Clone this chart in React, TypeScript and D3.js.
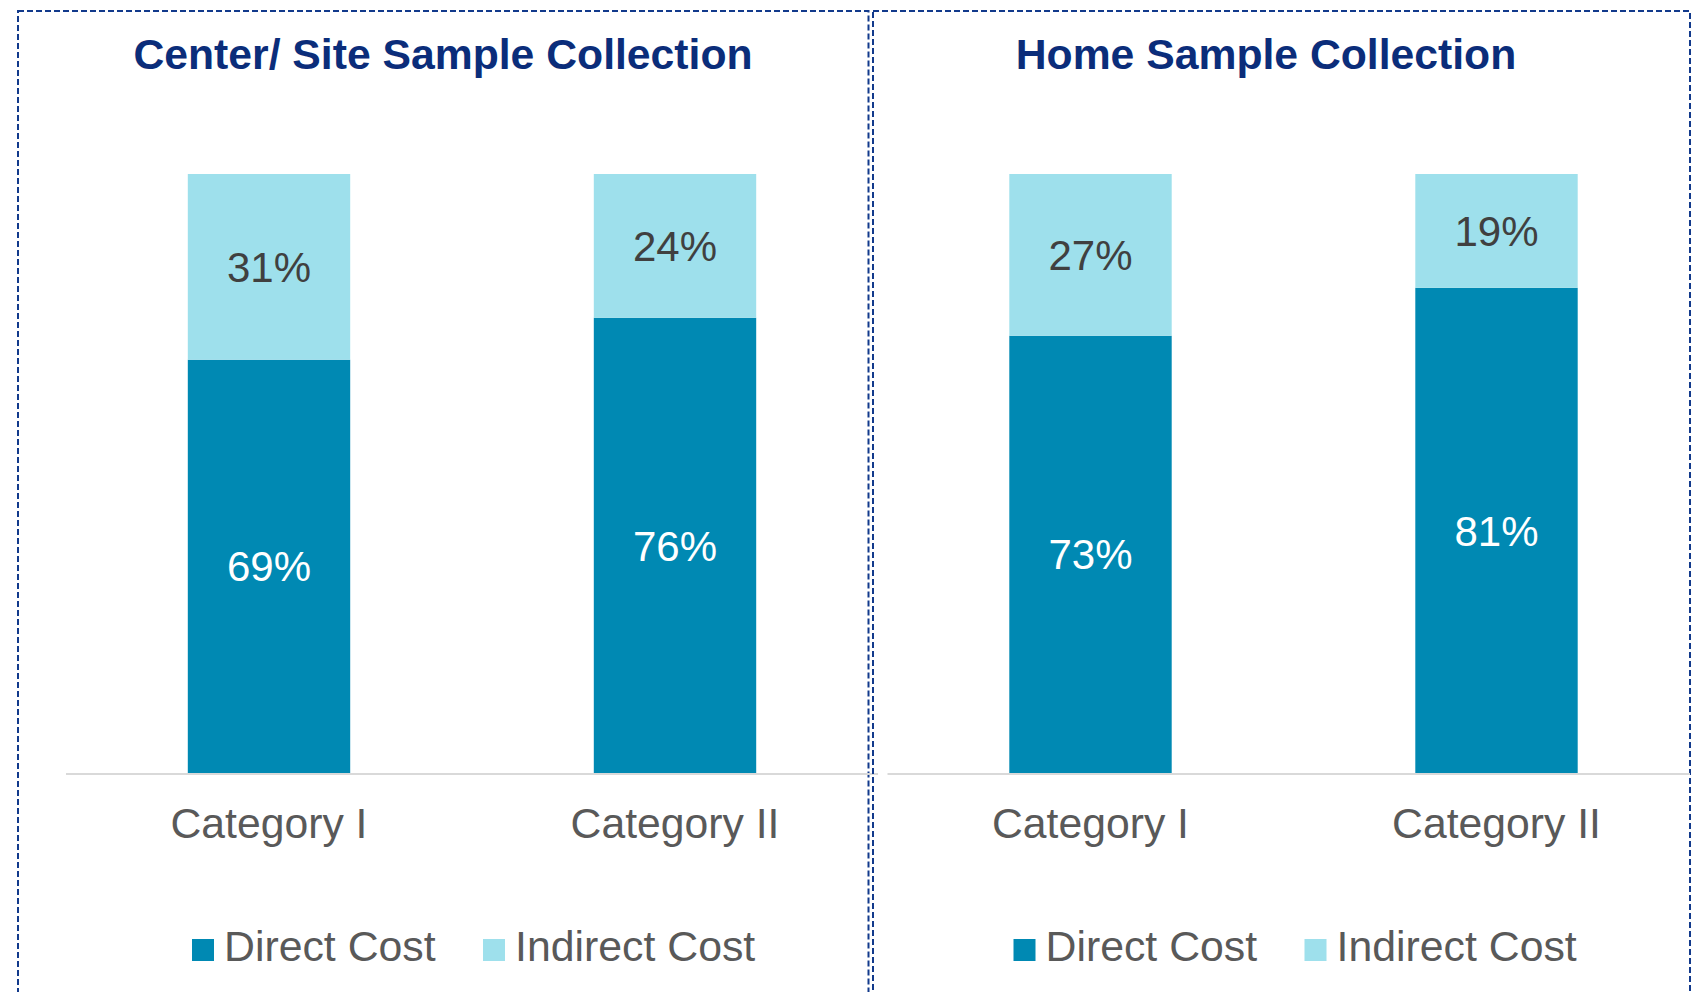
import { scaleBand, scaleLinear } from 'd3'

// chart values
let panelTitles = ['Center/ Site Sample Collection', 'Home Sample Collection']
let categories = ['Category I', 'Category II']
let seriesNames = ['Direct Cost', 'Indirect Cost']
let directCost = [[69, 76], [73, 81]]
let indirectCost = [[31, 24], [27, 19]]

let colors = ['#0089B3', '#9EE0EC']
let labelColors = ['#ffffff', '#404040']
let font = '"Liberation Sans", Arial, sans-serif'

let width = 1701
let height = 992
let baseY = 773
let topY = 174

// each panel is the same layout shifted right
let panels = [
    { dx: 0, border: [18, 11, 850.5], titleX: 443 },
    { dx: 821.5, border: [873, 11, 817], titleX: 1266 },
]

let Panel = ({ p, i }: { p: any, i: number }) => {
    let xScale = scaleBand()
        .domain(categories)
        .range([66 + p.dx, 878 + p.dx])
        .paddingInner(0.6)
        .paddingOuter(0.3)

    let yScale = scaleLinear()
        .domain([0, 100])
        .range([baseY, topY])

    let stacks = categories.map((c, j) => {
        let d = directCost[i][j]
        let ind = indirectCost[i][j]
        return [
            { c, y0: 0, y1: d, v: d },
            { c, y0: d, y1: d + ind, v: ind },
        ]
    })

    let [bx, by, bw] = p.border
    let axisEnd = Math.min(878 + p.dx, 1690)

    return (
        <g>
            <rect x={bx} y={by} width={bw} height={1000} fill='none'
                stroke='#123A8C' strokeWidth={2} strokeDasharray='6,3' />

            <text x={p.titleX} y={69} textAnchor='middle' fontSize={42.7}
                fontWeight='bold' fill='#0B2D7A'>{panelTitles[i]}</text>

            {stacks.map((segs) =>
                segs.map((s, k) => (
                    <g key={s.c + k}>
                        <rect
                            x={xScale(s.c)}
                            y={yScale(s.y1)}
                            width={xScale.bandwidth()}
                            height={yScale(s.y0) - yScale(s.y1)}
                            fill={colors[k]} />
                        <text
                            x={xScale(s.c)! + xScale.bandwidth() / 2}
                            y={(yScale(s.y0) + yScale(s.y1)) / 2}
                            dy='.36em'
                            textAnchor='middle'
                            fontSize={42}
                            fill={labelColors[k]}>{s.v}%</text>
                    </g>
                ))
            )}

            <line x1={66 + p.dx} x2={axisEnd} y1={baseY + 1} y2={baseY + 1}
                stroke='#d9d9d9' strokeWidth={2} />

            {categories.map((c) => (
                <text key={c} x={xScale(c)! + xScale.bandwidth() / 2} y={838}
                    textAnchor='middle' fontSize={42.7} fill='#595959'>{c}</text>
            ))}

            {/* legend */}
            {seriesNames.map((name, k) => {
                let lx = (k === 0 ? 192 : 483) + p.dx
                return (
                    <g key={name}>
                        <rect x={lx} y={939} width={22} height={22} fill={colors[k]} />
                        <text x={lx + 32} y={961} fontSize={42.8} fill='#595959'>{name}</text>
                    </g>
                )
            })}
        </g>
    )
}

let App = () => {
    return (
        <svg width={width} height={height} fontFamily={font}
            style={{ position: 'absolute', left: 0, top: 0, background: '#fff' }}>
            {panels.map((p, i) => <Panel key={i} p={p} i={i} />)}
        </svg>
    )
}

export default App
